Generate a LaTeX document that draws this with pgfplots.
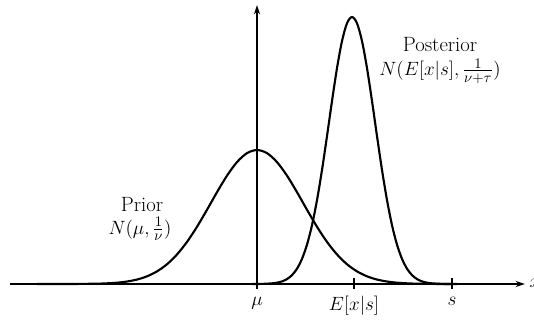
\documentclass[border=0pt]{standalone}
\usepackage{pgfplots}
\pgfplotsset{compat=1.18}
\usetikzlibrary{arrows.meta}
\begin{document}
\begin{tikzpicture}
\begin{axis}[
  at={(0,0)}, anchor=south west,
  scale only axis, width=400.5pt, height=241.5pt,
  xmin=-257, xmax=277, ymin=-38, ymax=284,
  hide axis, clip=false,
]
% axes
\draw[line width=1.5pt,-{Stealth[length=7pt,width=4.5pt]}] (axis cs:-247,0) -- (axis cs:268,0);
\draw[line width=1.5pt,-{Stealth[length=7pt,width=4.5pt]}] (axis cs:0,-5) -- (axis cs:0,279);
\draw[line width=1.3pt] (axis cs:97,-5) -- (axis cs:97,6);
\draw[line width=1.3pt] (axis cs:195,-5) -- (axis cs:195,6);
% prior
\addplot[black, line width=1.6pt, smooth] coordinates {
(-220,0) (-200,0) (-180,0.06) (-160,0.32) (-150,0.66) (-140,1.31) (-130,2.47) (-120,4.46) (-110,7.68)
(-100,12.61) (-90,19.76) (-80,29.54) (-70,42.10) (-60,57.23) (-50,74.23) (-40,91.82)
(-30,108.33) (-20,121.91) (-10,130.87) (0,134) (10,130.87) (20,121.91) (30,108.33)
(40,91.82) (50,74.23) (60,57.23) (70,42.10) (80,29.54) (90,19.76) (100,12.61)
(110,7.68) (120,4.46) (130,2.47) (140,1.31) (150,0.66) (160,0.32) (180,0.06) (200,0)
};
% posterior
\addplot[black, line width=1.6pt, smooth] coordinates {
(-5,0) (5,0.11) (15,0.63) (20,1.31) (25,2.60) (30,4.92) (35,8.89) (40,15.30) (45,25.14)
(50,39.38) (55,58.85) (60,83.88) (65,114.04) (70,147.90) (75,182.95) (80,215.85)
(85,242.92) (90,260.77) (95,267) (100,260.77) (105,242.92) (110,215.85) (115,182.95)
(120,147.90) (125,114.04) (130,83.88) (135,58.85) (140,39.38) (145,25.14) (150,15.30)
(155,8.89) (160,4.92) (165,2.60) (170,1.31) (175,0.63) (185,0.11) (195,0)
};
\node[font=\fontsize{15.5}{18}\selectfont] at (axis cs:183,239) {Posterior};
\node[font=\fontsize{15.5}{18}\selectfont] at (axis cs:183,213) {$N(E[x|s],\frac{1}{\nu+\tau})$};
\node[font=\fontsize{15.5}{18}\selectfont] at (axis cs:-115,79) {Prior};
\node[font=\fontsize{15.5}{18}\selectfont] at (axis cs:-117,55) {$N(\mu,\frac{1}{\nu})$};
\node[font=\fontsize{15.5}{18}\selectfont] at (axis cs:0,-19) {$\mu$};
\node[font=\fontsize{15.5}{18}\selectfont] at (axis cs:97,-22) {$E[x|s]$};
\node[font=\fontsize{15.5}{18}\selectfont] at (axis cs:195,-17) {$s$};
\node[font=\fontsize{15.5}{18}\selectfont, anchor=west] at (axis cs:268,1) {$x$};
\end{axis}
\pgfresetboundingbox
\useasboundingbox (0,0) rectangle (400.5pt,241.5pt);
\end{tikzpicture}
\end{document}
